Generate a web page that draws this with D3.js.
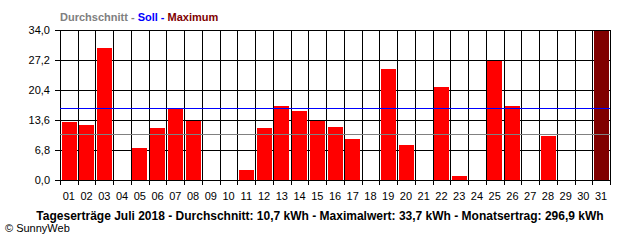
<!DOCTYPE html>
<html>
<head>
<meta charset="utf-8">
<script src="https://cdn.jsdelivr.net/npm/d3@7"></script>
<style>
  body { margin: 0; background: #fff; }
  text { font-family: "Liberation Sans", Arial, sans-serif; }
</style>
</head>
<body>
<div class="chart"></div>
<script>
var svgWidth = 640;
var svgHeight = 240;

var margin = { top: 30, right: 30, bottom: 60, left: 60 };
var width = svgWidth - margin.left - margin.right;
var height = svgHeight - margin.top - margin.bottom;

// daily yield in kWh, 0 = no value
var days = ["01", "02", "03", "04", "05", "06", "07", "08", "09", "10",
  "11", "12", "13", "14", "15", "16", "17", "18", "19", "20",
  "21", "22", "23", "24", "25", "26", "27", "28", "29", "30", "31"];
var yields = [13.1, 12.5, 29.9, 0, 7.3, 11.8, 16.3, 13.4, 0, 0,
  2.3, 11.8, 16.8, 15.6, 13.4, 12.0, 9.3, 0, 25.2, 7.9,
  0, 21.1, 0.9, 0, 27.0, 16.8, 0, 10.0, 0, 0, 33.7];
var yTicks = [0, 6.8, 13.6, 20.4, 27.2, 34];
var averageLine = 10.4;
var targetLine = 16.25;
var maxDay = "31";

var fmt = function (v) { return d3.format(".1f")(v).replace(".", ","); };

var svg = d3.select(".chart")
  .append("svg")
  .attr("width", svgWidth)
  .attr("height", svgHeight);

var chartGroup = svg.append("g")
  .attr("transform", `translate(${margin.left}, ${margin.top})`)
  .attr("shape-rendering", "crispEdges");

var xScale = d3.scaleBand()
  .domain(days)
  .range([0, width]);

var yScale = d3.scaleLinear()
  .domain([0, 34])
  .range([height, 0]);

// horizontal grid with small ticks on the left
chartGroup.append("g")
  .selectAll("line")
  .data(yTicks)
  .enter()
  .append("line")
  .attr("x1", -5)
  .attr("x2", width)
  .attr("y1", d => Math.round(yScale(d)) + 0.5)
  .attr("y2", d => Math.round(yScale(d)) + 0.5)
  .attr("stroke", "#000");

// vertical grid at band borders, ticks below axis
var borders = days.map(d => xScale(d)).concat([width]);
chartGroup.append("g")
  .selectAll("line")
  .data(borders)
  .enter()
  .append("line")
  .attr("x1", d => Math.round(d) + 0.5)
  .attr("x2", d => Math.round(d) + 0.5)
  .attr("y1", 0)
  .attr("y2", height + 5)
  .attr("stroke", "#000");

// bars
chartGroup.append("g")
  .selectAll("rect")
  .data(days.map((d, i) => ({ day: d, value: yields[i] })).filter(d => d.value > 0))
  .enter()
  .append("rect")
  .attr("x", d => Math.round(xScale(d.day) + 1.5))
  .attr("width", Math.round(xScale.bandwidth() - 2.5))
  .attr("y", d => Math.round(yScale(d.value)))
  .attr("height", d => Math.round(height - yScale(d.value)))
  .attr("fill", d => d.day === maxDay ? "#800000" : "#ff0000");

// redraw bottom axis line over bars
chartGroup.append("line")
  .attr("x1", -5).attr("x2", width)
  .attr("y1", height + 0.5).attr("y2", height + 0.5)
  .attr("stroke", "#000");

// average and target lines
chartGroup.append("line")
  .attr("x1", 0).attr("x2", width)
  .attr("y1", Math.round(yScale(averageLine)) + 0.5)
  .attr("y2", Math.round(yScale(averageLine)) + 0.5)
  .attr("stroke", "#808080");

chartGroup.append("line")
  .attr("x1", 0).attr("x2", width)
  .attr("y1", Math.round(yScale(targetLine)) + 0.5)
  .attr("y2", Math.round(yScale(targetLine)) + 0.5)
  .attr("stroke", "#0000ff");

// y labels
chartGroup.append("g")
  .selectAll("text")
  .data(yTicks)
  .enter()
  .append("text")
  .attr("x", -10)
  .attr("y", d => yScale(d) + 4)
  .attr("text-anchor", "end")
  .attr("font-size", "11px")
  .text(d => fmt(d));

// x labels
chartGroup.append("g")
  .selectAll("text")
  .data(days)
  .enter()
  .append("text")
  .attr("x", d => xScale(d) + xScale.bandwidth() / 2)
  .attr("y", height + 20)
  .attr("text-anchor", "middle")
  .attr("font-size", "11px")
  .text(d => d);

// legend on top
var legend = svg.append("text")
  .attr("x", 60)
  .attr("y", 21)
  .attr("font-size", "11px")
  .attr("font-weight", "bold");
legend.append("tspan").attr("fill", "#808080").text("Durchschnitt - ");
legend.append("tspan").attr("fill", "#0000ff").text("Soll - ");
legend.append("tspan").attr("fill", "#800000").text("Maximum");

// caption
svg.append("text")
  .attr("x", 320)
  .attr("y", 220)
  .attr("text-anchor", "middle")
  .attr("font-size", "12px")
  .attr("font-weight", "bold")
  .text("Tageserträge Juli 2018 - Durchschnitt: 10,7 kWh - Maximalwert: 33,7 kWh - Monatsertrag: 296,9 kWh");

svg.append("text")
  .attr("x", 5)
  .attr("y", 232)
  .attr("font-size", "11px")
  .text("© SunnyWeb");
</script>
</body>
</html>
